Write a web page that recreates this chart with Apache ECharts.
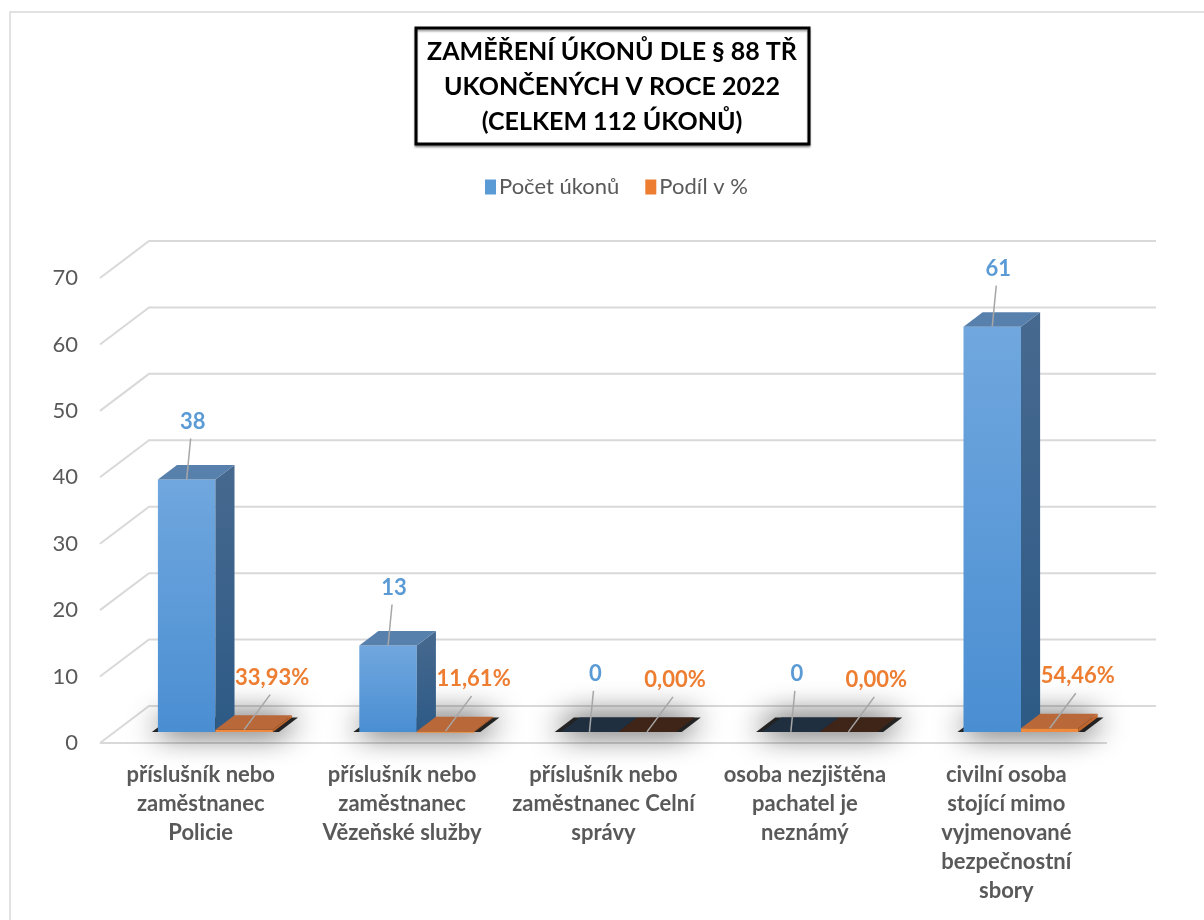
<!DOCTYPE html>
<html>
<head>
<meta charset="utf-8">
<script src="https://cdn.jsdelivr.net/npm/echarts@6/dist/echarts.min.js"></script>
<style>
  html, body { margin: 0; padding: 0; background: #fff; }
  #chart { width: 1204px; height: 920px; }
</style>
</head>
<body>
<div id="chart"></div>
<script>
// data
const categories = [
  "příslušník nebo\nzaměstnanec\nPolicie",
  "příslušník nebo\nzaměstnanec\nVězeňské služby",
  "příslušník nebo\nzaměstnanec Celní\nsprávy",
  "osoba nezjištěna\npachatel je\nneznámý",
  "civilní osoba\nstojící mimo\nvyjmenované\nbezpečnostní\nsbory"
]
const counts = [38, 13, 0, 0, 61]
const shares = [33.93, 11.61, 0, 0, 54.46]
const yTicks = [0, 10, 20, 30, 40, 50, 60, 70]
const titleText = "ZAMĚŘENÍ ÚKONŮ DLE § 88 TŘ\nUKONČENÝCH V ROCE 2022\n(CELKEM 112 ÚKONŮ)"

// 3D look
const DX = 49, DY = -37       // floor depth offset
const D0 = 0.3, D1 = 0.39     // bar front position / bar depth (fraction of floor depth)
const BAR_FRAC = 0.2855
const FONT = "Lato, 'Open Sans', sans-serif"
const GRAY = "#595959"

const chart = echarts.init(document.getElementById("chart"))

// perspective grid lines
function renderWalls(params, api) {
  const cs = params.coordSys
  const y = api.coord([0, api.value(1)])[1]
  const children = [{
    type: "polyline",
    shape: { points: [[cs.x, y], [cs.x + DX, y + DY], [cs.x + cs.width + DX, y + DY]] },
    style: { stroke: "#d9d9d9", lineWidth: 2, fill: null }
  }]
  if (api.value(1) === 0) {
    children.push({
      type: "line",
      shape: { x1: cs.x, y1: y, x2: cs.x + cs.width, y2: y },
      style: { stroke: "#d9d9d9", lineWidth: 2 }
    })
  }
  return { type: "group", children }
}

function barGeom(api, side, v) {
  const i = api.value(0)
  const base = api.coord([i, 0])
  const top = api.coord([i, v])
  const w = api.size([1, 0])[0] * BAR_FRAC
  const sx = DX * D0, sy = DY * D0
  const dx = DX * D1, dy = DY * D1
  const x0 = side === 0 ? base[0] + sx - w : base[0] + sx
  return { x0, x1: x0 + w, yb: base[1] + sy, yt: top[1] + sy, dx, dy, w }
}

// floor shadow under each bar pair
function renderShadow(params, api) {
  const g = barGeom(api, 0, 0)
  const x0 = g.x0 - 6, x1 = g.x1 + g.w + 6
  return {
    type: "polygon",
    shape: { points: [[x0, g.yb], [x1, g.yb], [x1 + g.dx, g.yb + g.dy], [x0 + g.dx, g.yb + g.dy]] },
    style: { fill: "rgba(25,25,25,0.95)", shadowBlur: 30, shadowColor: "rgba(0,0,0,1)" }
  }
}

function makeBarRenderer(side, pal) {
  return function (params, api) {
    const v = api.value(1)
    const g = barGeom(api, side, v)
    const children = []
    const flat = v === 0
    if (!flat) {
      children.push({
        type: "rect",
        shape: { x: g.x0, y: g.yt, width: g.w, height: Math.max(g.yb - g.yt, 1.5) },
        style: { fill: new echarts.graphic.LinearGradient(0, 0, 0, 1, [
          { offset: 0, color: pal.frontTop }, { offset: 1, color: pal.frontBottom }]) }
      })
      children.push({
        type: "polygon",
        shape: { points: [[g.x1, g.yt], [g.x1 + g.dx, g.yt + g.dy], [g.x1 + g.dx, g.yb + g.dy], [g.x1, g.yb]] },
        style: { fill: new echarts.graphic.LinearGradient(0, 0, 0, 1, [
          { offset: 0, color: pal.sideTop }, { offset: 1, color: pal.sideBottom }]) }
      })
    }
    children.push({
      type: "polygon",
      shape: { points: [[g.x0, g.yt], [g.x1, g.yt], [g.x1 + g.dx, g.yt + g.dy], [g.x0 + g.dx, g.yt + g.dy]] },
      style: { fill: flat ? pal.zero : pal.top }
    })
    // label with leader line
    const cx = (g.x0 + g.x1) / 2
    const lx = cx + pal.lx, ly = g.yt + pal.ly
    children.push({
      type: "line",
      shape: { x1: lx + pal.leadX, y1: ly + 17, x2: cx, y2: g.yt },
      style: { stroke: "#a6a6a6", lineWidth: 1.5 }
    })
    children.push({
      type: "text",
      style: {
        text: pal.fmt(api.value(2)), x: lx, y: ly, align: "center", verticalAlign: "middle",
        fill: pal.label, fontSize: 22, fontWeight: "bold", fontFamily: FONT
      }
    })
    return { type: "group", children }
  }
}

const bluePal = {
  frontTop: "#70a7de", frontBottom: "#4a8ed2", sideTop: "#47698f", sideBottom: "#2d5a86",
  top: "#5880ad", zero: "#1f2f40", label: "#5b9bd5", lx: 6, ly: -58, leadX: -2,
  fmt: v => String(v)
}
const orangePal = {
  frontTop: "#f08a3c", frontBottom: "#f08a3c", sideTop: "#c0652c", sideBottom: "#c0652c",
  top: "#b9683a", zero: "#3f2418", label: "#ed7d31", lx: 28, ly: -52, leadX: -2,
  fmt: v => v.toFixed(2).replace(".", ",") + "%"
}

const option = {
  animation: false,
  backgroundColor: "#fff",
  textStyle: { fontFamily: FONT },
  graphic: [
    { type: "rect", shape: { x: 10, y: 12, width: 1300, height: 1000 },
      style: { fill: "none", stroke: "#d9d9d9", lineWidth: 1.5 }, silent: true },
    { type: "rect", shape: { x: 416, y: 28, width: 393, height: 116 },
      style: { fill: "#fff", stroke: "#000", lineWidth: 3,
        shadowColor: "rgba(0,0,0,0.35)", shadowOffsetY: 2, shadowBlur: 2 } },
    { type: "text", x: 612, y: 87,
      style: { text: titleText, align: "center", verticalAlign: "middle", lineHeight: 35,
        fontSize: 25, fontWeight: "bold", fontFamily: FONT, fill: "#000" } }
  ],
  legend: {
    data: ["Počet úkonů", "Podíl v %"],
    top: 171, left: 480,
    icon: "rect", itemWidth: 11, itemHeight: 15, itemGap: 26, itemStyle: { borderWidth: 0 },
    textStyle: { fontSize: 22, color: GRAY, fontFamily: FONT, padding: [0, 0, 0, -2] }
  },
  grid: { left: 100, right: 97, top: 278, bottom: 177 },
  xAxis: {
    type: "category",
    data: categories,
    axisLine: { show: false },
    axisTick: { show: false },
    axisLabel: {
      interval: 0, margin: 17, fontSize: 22, lineHeight: 29, fontWeight: "bold",
      color: GRAY, fontFamily: FONT, align: "center"
    }
  },
  yAxis: {
    type: "value",
    min: 0, max: 70, interval: 10,
    splitLine: { show: false },
    axisLine: { show: false },
    axisTick: { show: false },
    axisLabel: { fontSize: 22, color: GRAY, margin: 22, fontFamily: FONT }
  },
  series: [
    {
      name: "walls", type: "custom", z: 0, silent: true,
      renderItem: renderWalls,
      data: yTicks.map(v => [0, v]),
      encode: { x: 0, y: 1 }
    },
    {
      name: "shadow", type: "custom", z: 1, silent: true,
      renderItem: renderShadow,
      data: counts.map((v, i) => [i, 0]),
      encode: { x: 0, y: 1 }
    },
    {
      name: "Počet úkonů", type: "custom", z: 3, clip: false,
      itemStyle: { color: "#5b9bd5" },
      renderItem: makeBarRenderer(0, bluePal),
      data: counts.map((v, i) => [i, v, v]),
      encode: { x: 0, y: 1 }
    },
    {
      name: "Podíl v %", type: "custom", z: 3, clip: false,
      itemStyle: { color: "#ed7d31" },
      renderItem: makeBarRenderer(1, orangePal),
      data: shares.map((v, i) => [i, v / 100, v]),
      encode: { x: 0, y: 1 }
    }
  ]
}

chart.setOption(option)
window.addEventListener("resize", () => chart.resize())
</script>
</body>
</html>
